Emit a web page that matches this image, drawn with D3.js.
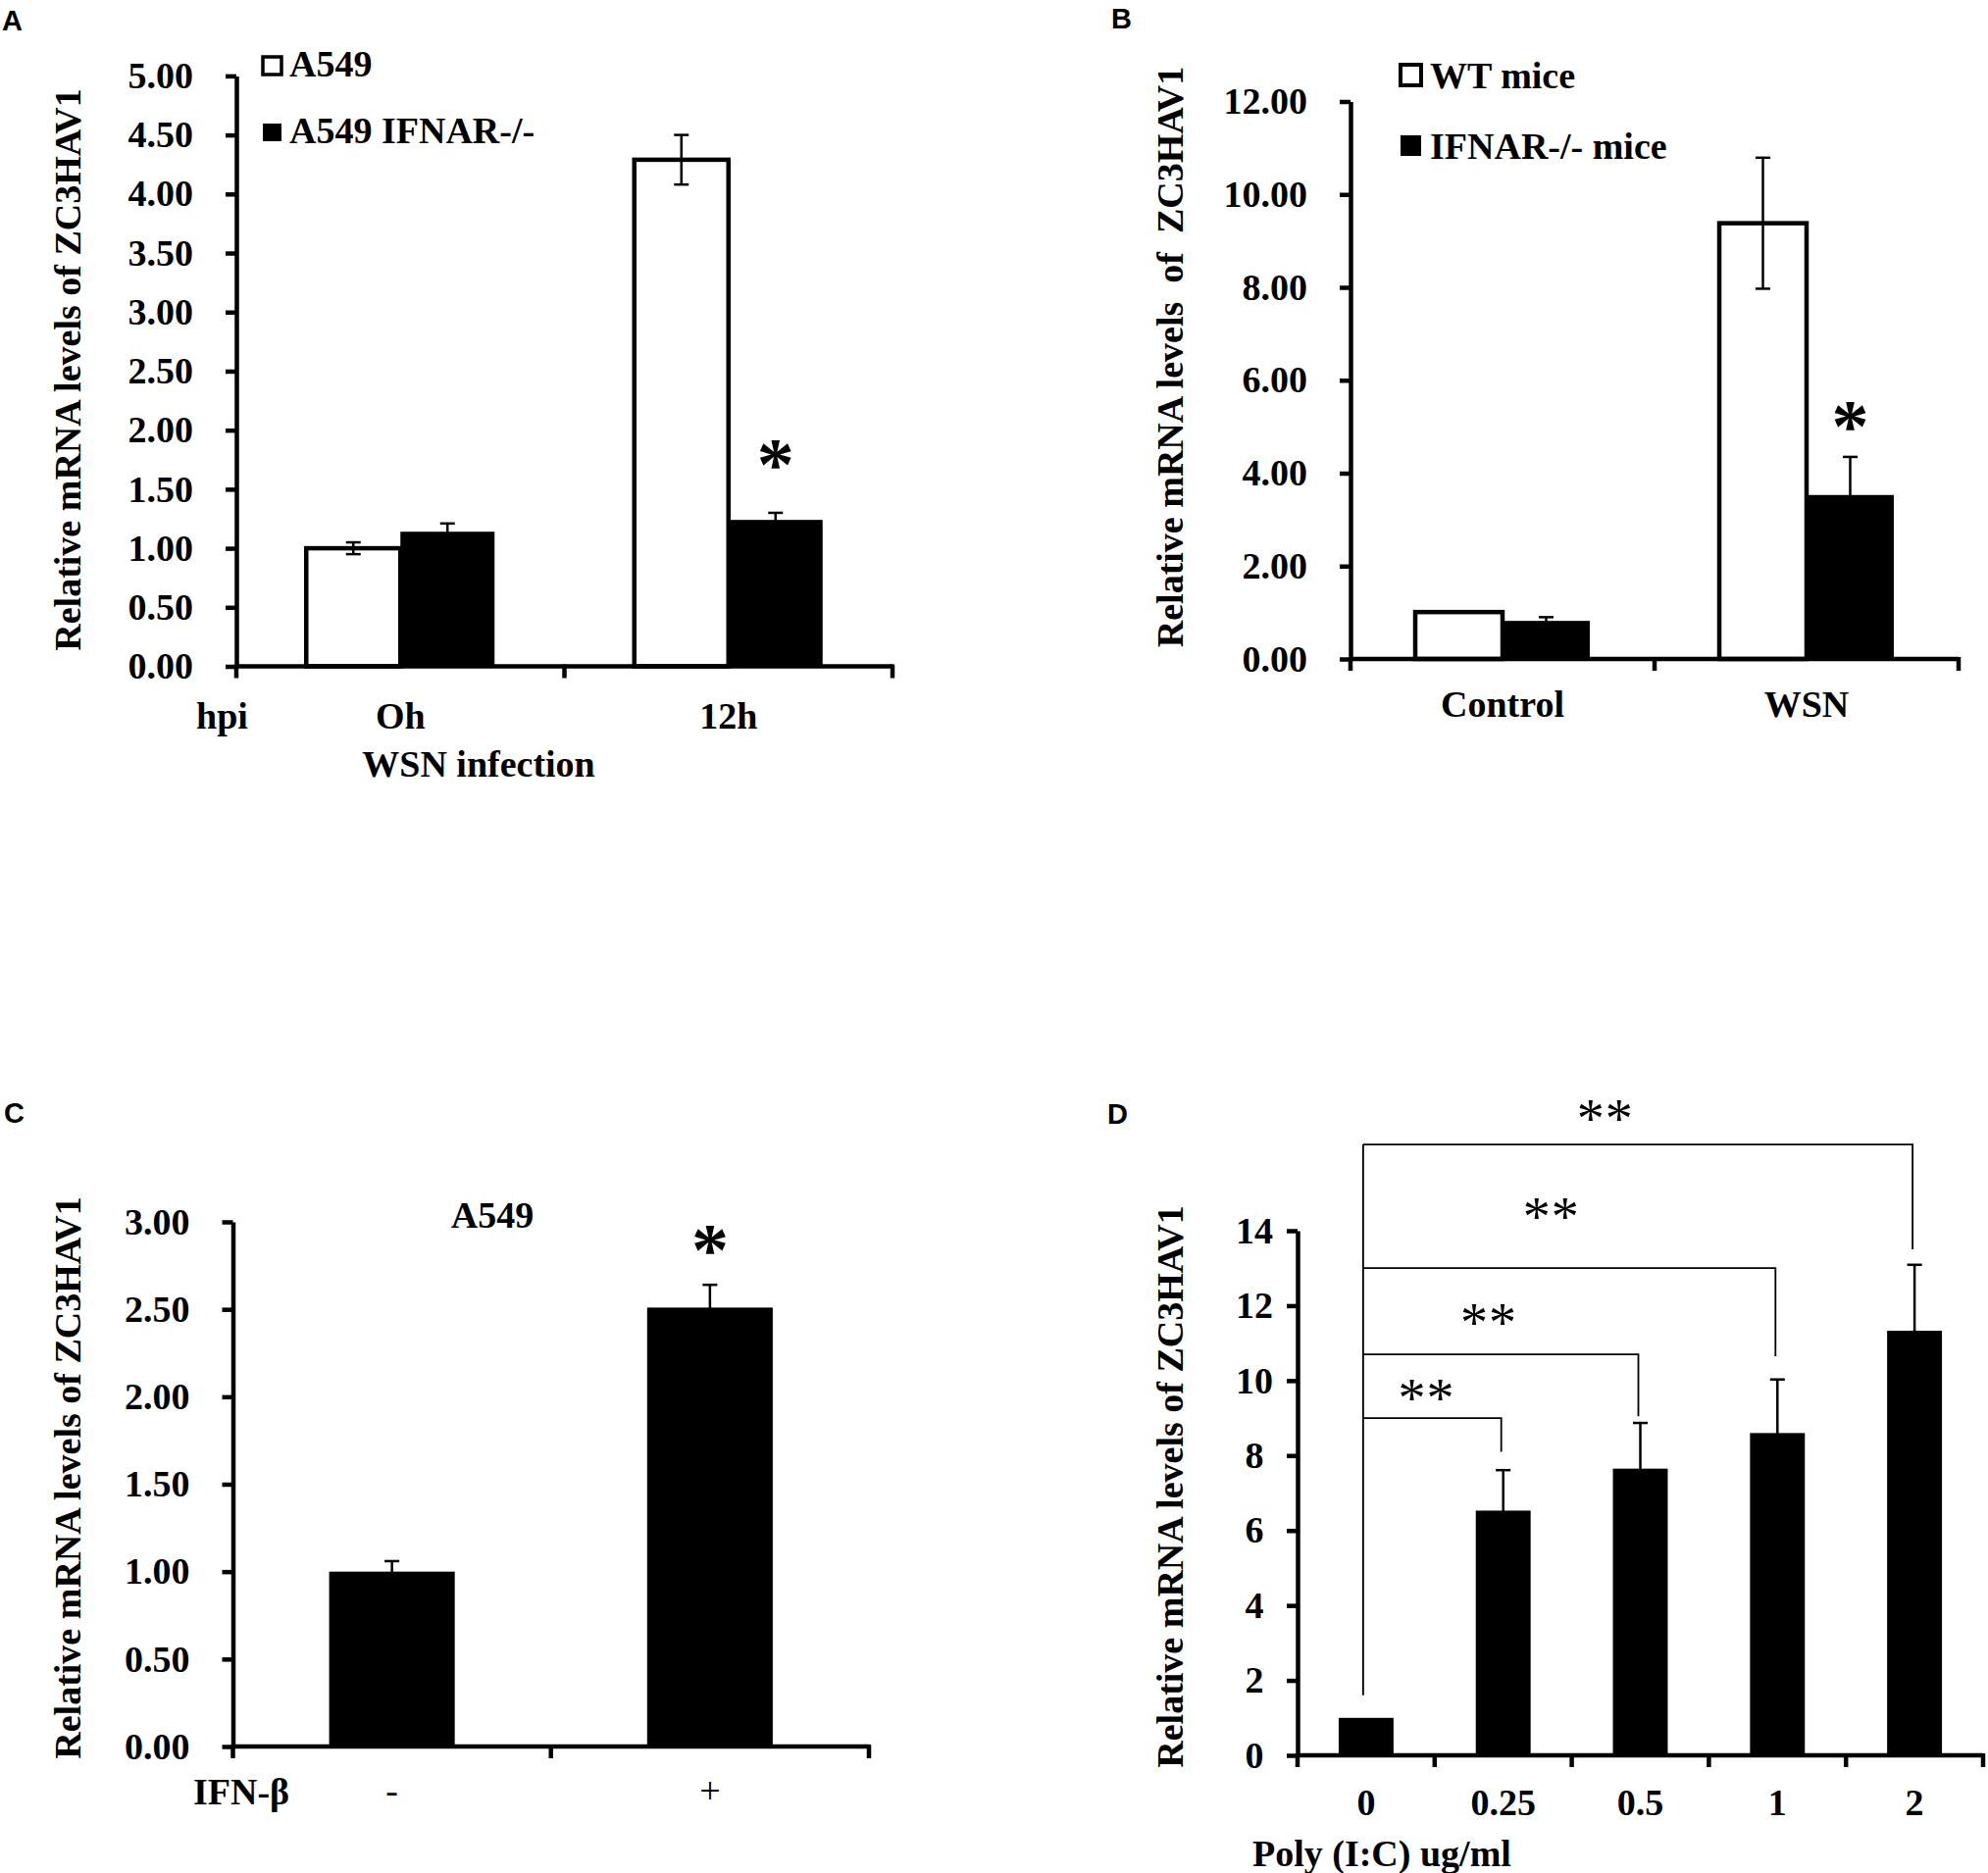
<!DOCTYPE html>
<html><head><meta charset="utf-8">
<script src="https://cdn.jsdelivr.net/npm/d3@7"></script>
<style>
body{margin:0;background:#fff;}
</style></head><body>
<svg id="chart" width="2027" height="1910"></svg>
<script>
// ---------------- DATA ----------------
// Panel A
const aCategories = ["Oh", "12h"];
const aSeries = ["A549", "A549 IFNAR-/-"];
const aValues = [[1.00, 1.14], [4.29, 1.24]];
const aErrors = [[0.05, 0.07], [0.21, 0.06]];
const aTicks = [0, 0.5, 1, 1.5, 2, 2.5, 3, 3.5, 4, 4.5, 5];

// Panel B
const bCategories = ["Control", "WSN"];
const bSeries = ["WT mice", "IFNAR-/- mice"];
const bValues = [[1.01, 0.82], [9.38, 3.53]];
const bErrors = [[0, 0.08], [1.41, 0.82]];
const bTicks = [0, 2, 4, 6, 8, 10, 12];

// Panel C
const cCategories = ["-", "+"];
const cSeries = ["A549"];
const cValues = [[1.00], [2.51]];
const cErrors = [[0.06], [0.13]];
const cTicks = [0, 0.5, 1, 1.5, 2, 2.5, 3];

// Panel D
const dCategories = ["0", "0.25", "0.5", "1", "2"];
const dSeries = ["Poly (I:C)"];
const dValues = [[1.0], [6.53], [7.65], [8.60], [11.33]];
const dErrors = [[0], [1.08], [1.22], [1.43], [1.76]];
const dTicks = [0, 2, 4, 6, 8, 10, 12, 14];
// significance brackets (from "0" to target), in data units
const dBracketTargets = ["0.25", "0.5", "1", "2"];
const dBracketLevels = [9.0, 10.7, 13.0, 16.3];
const dBracketDropEnds = [8.1, 9.05, 10.65, 13.5];
const dBracketStart = 1.6;
const dBracketLabels = ["**", "**", "**", "**"];

// ---------------- DRAW ----------------
const SERIF = '"Liberation Serif","Times New Roman",serif';
const SANS = '"Liberation Sans",Arial,sans-serif';
const svg = d3.select("#chart");

function txt(g, x, y, s, opt = {}) {
  return g.append("text").attr("x", x).attr("y", y).text(s)
    .attr("font-family", opt.family || SERIF)
    .attr("font-weight", opt.weight || "bold")
    .attr("font-size", opt.size || 38)
    .attr("text-anchor", opt.anchor || "start")
    .attr("fill", "#000");
}

function barPanel(p) {
  const g = svg.append("g");
  const y = d3.scaleLinear().domain([0, p.max]).range([p.y0, p.yTop]);
  const x = d3.scaleBand().domain(p.categories).range([p.xLeft, p.xRight]).padding(0);
  const gw = x.bandwidth() * p.groupFrac;
  const xs = d3.scaleBand().domain(d3.range(p.series.length)).range([0, gw]).padding(0);
  const rows = p.categories.flatMap((c, i) => p.values[i].map((v, j) => ({c, j, v, e: p.errors[i][j]})));
  const bx = d => x(d.c) + (x.bandwidth() - gw) / 2 + xs(d.j);

  g.selectAll("rect.bar").data(rows).join("rect").attr("class", "bar")
    .attr("x", bx).attr("y", d => y(d.v))
    .attr("width", xs.bandwidth()).attr("height", d => y(0) - y(d.v))
    .attr("fill", d => p.fills[d.j])
    .attr("stroke", "#000")
    .attr("stroke-width", d => p.fills[d.j] === "#fff" ? 4.5 : 0);

  const eb = g.selectAll("g.err").data(rows.filter(d => d.e > 0)).join("g").attr("class", "err")
    .attr("stroke", "#000").attr("stroke-width", 2.5);
  const cx = d => bx(d) + xs.bandwidth() / 2;
  eb.append("line").attr("x1", cx).attr("x2", cx).attr("y1", d => y(d.v - d.e)).attr("y2", d => y(d.v + d.e));
  eb.append("line").attr("x1", d => cx(d) - 7.5).attr("x2", d => cx(d) + 7.5).attr("y1", d => y(d.v + d.e)).attr("y2", d => y(d.v + d.e));
  eb.append("line").attr("x1", d => cx(d) - 7.5).attr("x2", d => cx(d) + 7.5).attr("y1", d => y(d.v - d.e)).attr("y2", d => y(d.v - d.e));

  // y axis
  const ya = d3.axisLeft(y).tickValues(p.ticks).tickFormat(p.fmt).tickSize(11).tickPadding(33).tickSizeOuter(0);
  const yg = g.append("g").attr("transform", `translate(${p.xLeft},0)`).call(ya)
    .attr("font-family", SERIF).attr("font-size", 38).attr("font-weight", "bold");
  yg.select(".domain").attr("stroke-width", 4.5);
  yg.selectAll(".tick line").attr("stroke-width", 4.5);
  yg.selectAll(".tick text").attr("fill", "#000");
  if (p.tickCenter) yg.selectAll(".tick text").attr("text-anchor", "middle").attr("x", -p.tickCenter);

  // x axis
  g.append("line").attr("x1", p.xLeft).attr("x2", p.xRight).attr("y1", y(0)).attr("y2", y(0))
    .attr("stroke", "#000").attr("stroke-width", 4.5);
  const bounds = p.categories.map(c => x(c)).concat([x.range()[1]]);
  g.selectAll("line.xt").data(bounds).join("line").attr("class", "xt")
    .attr("x1", d => d).attr("x2", d => d).attr("y1", y(0) - 2).attr("y2", y(0) + 12)
    .attr("stroke", "#000").attr("stroke-width", 4.5);

  // category labels
  g.selectAll("text.cat").data(p.categories).join("text").attr("class", "cat")
    .attr("x", c => x(c) + x.bandwidth() / 2).attr("y", p.catY)
    .attr("text-anchor", "middle").attr("font-family", SERIF)
    .attr("font-weight", p.catWeight || "bold").attr("font-size", 38).text(c => c);

  // y title
  g.append("text").attr("transform", `translate(${p.titleX},${p.titleY}) rotate(-90)`)
    .attr("text-anchor", "middle").attr("font-family", SERIF).attr("font-weight", "bold")
    .attr("font-size", 38).attr("xml:space", "preserve").style("white-space", "pre").text(p.yTitle);

  // panel letter
  txt(g, p.letterX, p.letterY, p.letter, {family: SANS, size: 29});
  return {g, x, y, xs, gw, bx};
}

// Panel A
const A = barPanel({
  categories: aCategories, series: aSeries, values: aValues, errors: aErrors, ticks: aTicks,
  max: 5, fmt: d3.format(".2f"), xLeft: 241, xRight: 910, y0: 679.5, yTop: 77.4, groupFrac: 0.574,
  fills: ["#fff", "#000"], catY: 743, yTitle: "Relative mRNA levels of ZC3HAV1", titleX: 82, titleY: 377,
  letter: "A", letterX: 2, letterY: 31
});
txt(A.g, 200, 743, "hpi");
txt(A.g, 488, 792, "WSN infection", {anchor: "middle"});
// legend A
aSeries.forEach((s, j) => {
  const ly = [58, 126][j];
  A.g.append("rect").attr("x", 268).attr("y", ly).attr("width", 19).attr("height", 18)
    .attr("fill", j === 0 ? "#fff" : "#000").attr("stroke", "#000").attr("stroke-width", j === 0 ? 3.5 : 0);
  txt(A.g, 295, ly + 19.5, s);
});
// star A
txt(A.g, A.bx({c: "12h", j: 1}) + A.xs.bandwidth() / 2, A.y(1.78) + 34, "*", {anchor: "middle", size: 76});

// Panel B
const B = barPanel({
  categories: bCategories, series: bSeries, values: bValues, errors: bErrors, ticks: bTicks,
  max: 12, fmt: d3.format(".2f"), xLeft: 1377, xRight: 1997, y0: 672, yTop: 103.5, groupFrac: 0.574,
  fills: ["#fff", "#000"], catY: 731, yTitle: "Relative mRNA levels  of  ZC3HAV1", titleX: 1206, titleY: 364,
  letter: "B", letterX: 1133, letterY: 29
});
bSeries.forEach((s, j) => {
  const ly = [66, 138][j];
  B.g.append("rect").attr("x", 1428).attr("y", ly).attr("width", 21).attr("height", 21)
    .attr("fill", j === 0 ? "#fff" : "#000").attr("stroke", "#000").attr("stroke-width", j === 0 ? 4 : 0);
  txt(B.g, 1458, ly + 24, s);
});
txt(B.g, B.bx({c: "WSN", j: 1}) + B.xs.bandwidth() / 2, B.y(5.2) + 34, "*", {anchor: "middle", size: 76});

// Panel C
const C = barPanel({
  categories: cCategories, series: cSeries, values: cValues, errors: cErrors, ticks: cTicks,
  max: 3, fmt: d3.format(".2f"), xLeft: 237.5, xRight: 886, y0: 1781, yTop: 1246, groupFrac: 0.395,
  fills: ["#000"], catY: 1839, catWeight: "normal", yTitle: "Relative mRNA levels of ZC3HAV1", titleX: 82, titleY: 1507,
  letter: "C", letterX: 4, letterY: 1145
});
txt(C.g, 197, 1840, "IFN-β");
txt(C.g, 502, 1252, "A549", {anchor: "middle"});
txt(C.g, C.bx({c: "+", j: 0}) + C.xs.bandwidth() / 2, C.y(2.89) + 34, "*", {anchor: "middle", size: 76});

// Panel D
const D = barPanel({
  categories: dCategories, series: dSeries, values: dValues, errors: dErrors, ticks: dTicks,
  max: 14, fmt: d3.format("d"), xLeft: 1323, xRight: 2022, y0: 1790, yTop: 1255, groupFrac: 0.40,
  fills: ["#000"], catY: 1851, tickCenter: 44, yTitle: "Relative mRNA levels of ZC3HAV1", titleX: 1206, titleY: 1516,
  letter: "D", letterX: 1129, letterY: 1146
});
txt(D.g, 1277, 1903, "Poly (I:C) ug/ml");
{
  const cxD = c => D.x(c) + D.x.bandwidth() / 2;
  const x0 = cxD("0") - 3;
  const bg = D.g.append("g").attr("stroke", "#000").attr("stroke-width", 1.8).attr("fill", "none");
  bg.append("line").attr("x1", x0).attr("x2", x0).attr("y1", D.y(dBracketStart)).attr("y2", D.y(d3.max(dBracketLevels)));
  const starOffsets = [0.44, 0.894, 1.35, 1.744];
  const starValues = [9.69, 11.71, 14.53, 17.15];
  dBracketTargets.forEach((t, i) => {
    const xt = cxD(t) - 2;
    bg.append("path").attr("d", `M${x0},${D.y(dBracketLevels[i])}H${xt}V${D.y(dBracketDropEnds[i])}`);
    txt(D.g, cxD("0") + starOffsets[i] * D.x.bandwidth(), D.y(starValues[i]) + 25, dBracketLabels[i],
      {anchor: "middle", size: 56, weight: "normal"}).attr("letter-spacing", 1);
  });
}
</script>
</body></html>
